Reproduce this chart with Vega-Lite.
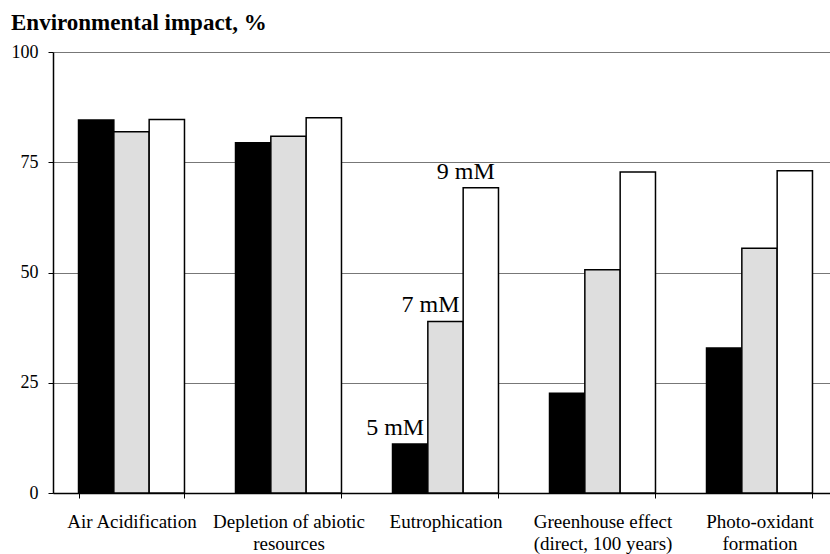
{
  "$schema": "https://vega.github.io/schema/vega-lite/v6.json",
  "width": 777,
  "height": 441,
  "autosize": "none",
  "padding": {"left": 53, "top": 52, "right": 0, "bottom": 61},
  "background": "white",
  "title": {"text": "Environmental impact, %", "anchor": "start", "frame": "bounds", "font": "Liberation Serif", "fontSize": 23, "fontWeight": "bold", "color": "black", "offset": 8},
  "config": {"view": {"stroke": null}, "font": "Liberation Serif"},
  "data": {"values": [
    {"category": "Air Acidification", "series": "5 mM", "value": 84.6},
    {"category": "Air Acidification", "series": "7 mM", "value": 81.9},
    {"category": "Air Acidification", "series": "9 mM", "value": 84.7},
    {"category": "Depletion of abiotic resources", "series": "5 mM", "value": 79.4},
    {"category": "Depletion of abiotic resources", "series": "7 mM", "value": 80.9},
    {"category": "Depletion of abiotic resources", "series": "9 mM", "value": 85.1},
    {"category": "Eutrophication", "series": "5 mM", "value": 11.1},
    {"category": "Eutrophication", "series": "7 mM", "value": 38.9},
    {"category": "Eutrophication", "series": "9 mM", "value": 69.2},
    {"category": "Greenhouse effect (direct, 100 years)", "series": "5 mM", "value": 22.6},
    {"category": "Greenhouse effect (direct, 100 years)", "series": "7 mM", "value": 50.6},
    {"category": "Greenhouse effect (direct, 100 years)", "series": "9 mM", "value": 72.8},
    {"category": "Photo-oxidant formation", "series": "5 mM", "value": 32.9},
    {"category": "Photo-oxidant formation", "series": "7 mM", "value": 55.5},
    {"category": "Photo-oxidant formation", "series": "9 mM", "value": 73.1}
  ]},
  "encoding": {
    "x": {
      "field": "category", "type": "nominal", "sort": null,
      "scale": {"range": [0, 785], "paddingInner": 0.325, "paddingOuter": 0.1625},
      "axis": {
        "title": null, "labelAngle": 0, "domainColor": "black", "domainWidth": 1.5,
        "tickColor": "black", "tickSize": 5, "tickBand": "extent",
        "labelFont": "Liberation Serif", "labelFontSize": 19, "labelColor": "black",
        "labelPadding": 14, "labelLineHeight": 22, "labelLimit": 0,
        "labelExpr": "datum.value == 'Depletion of abiotic resources' ? ['Depletion of abiotic', 'resources'] : datum.value == 'Greenhouse effect (direct, 100 years)' ? ['Greenhouse effect', '(direct, 100 years)'] : datum.value == 'Photo-oxidant formation' ? ['Photo-oxidant', 'formation'] : datum.value"
      }
    },
    "xOffset": {"field": "series", "type": "nominal", "sort": null, "scale": {"paddingInner": 0, "paddingOuter": 0}},
    "y": {
      "field": "value", "type": "quantitative",
      "scale": {"domain": [0, 100]},
      "axis": {
        "title": null, "values": [0, 25, 50, 75, 100], "grid": true, "gridColor": "#777777", "gridWidth": 1,
        "domainColor": "black", "domainWidth": 1.5, "tickColor": "black", "tickSize": 5,
        "labelFont": "Liberation Serif", "labelFontSize": 18, "labelColor": "black", "labelPadding": 10
      }
    }
  },
  "layer": [
    {
      "mark": {"type": "bar", "stroke": "black", "strokeWidth": 1.5},
      "encoding": {
        "fill": {"field": "series", "type": "nominal", "scale": {"domain": ["5 mM", "7 mM", "9 mM"], "range": ["black", "#dedede", "white"]}, "legend": null}
      }
    },
    {
      "transform": [{"filter": "datum.category == 'Eutrophication'"}],
      "mark": {"type": "text", "align": "center", "baseline": "alphabetic", "dx": -15, "dy": -9, "fontSize": 24, "font": "Liberation Serif", "color": "black"},
      "encoding": {"text": {"field": "series", "type": "nominal"}}
    }
  ]
}
